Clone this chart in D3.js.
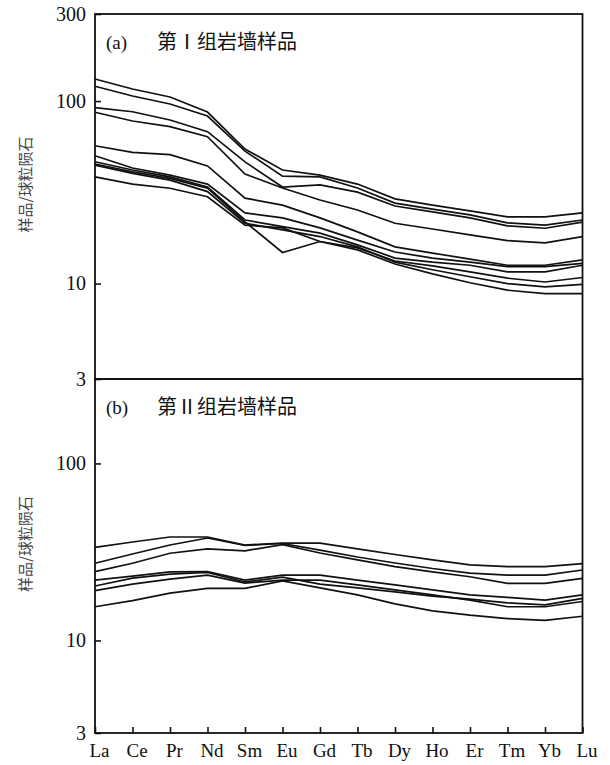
<!DOCTYPE html>
<html>
<head>
<meta charset="utf-8">
<script src="https://cdnjs.cloudflare.com/ajax/libs/d3/7.8.5/d3.min.js"></script>
<style>
  body { margin: 0; background: #fff; }
  .tick text { font-family: "Liberation Serif", "Times New Roman", serif; }
</style>
</head>
<body>
<svg id="chart" width="610" height="765"></svg>
<script>
// rare earth elements, chondrite-normalised
var elements = ["La", "Ce", "Pr", "Nd", "Sm", "Eu", "Gd", "Tb", "Dy", "Ho", "Er", "Tm", "Yb", "Lu"];

// group I dykes
var groupA = [
  [132.1, 116.4, 105.3, 87.1, 54.6, 41.9, 39.3, 35.1, 29.1, 26.9, 25.0, 23.2, 23.2, 24.4],
  [120.5, 106.6, 96.4, 82.8, 53.2, 38.8, 38.4, 33.4, 27.6, 25.6, 23.8, 21.5, 20.9, 22.3],
  [92.0, 87.4, 78.8, 68.0, 46.4, 33.8, 34.7, 31.7, 26.6, 24.7, 22.9, 20.7, 20.1, 21.7],
  [86.8, 77.8, 72.4, 63.8, 39.8, 33.4, 28.7, 25.3, 21.4, 19.9, 18.5, 17.2, 16.7, 18.1],
  [56.9, 52.4, 50.9, 44.1, 29.4, 26.9, 22.9, 19.2, 15.9, 14.7, 13.6, 12.6, 12.6, 13.5],
  [50.2, 43.0, 39.3, 35.1, 24.4, 22.9, 20.2, 17.3, 14.9, 13.8, 13.1, 12.4, 12.4, 12.9],
  [46.5, 41.9, 38.4, 33.8, 22.3, 20.5, 18.9, 16.3, 13.8, 13.1, 12.6, 11.6, 11.6, 12.6],
  [45.2, 40.9, 37.7, 33.3, 21.8, 14.8, 17.0, 15.7, 13.3, 12.5, 11.6, 10.7, 10.2, 10.8],
  [44.6, 40.2, 36.9, 31.9, 21.4, 19.7, 18.1, 15.9, 13.1, 11.9, 10.9, 10.0, 9.6, 9.9],
  [38.4, 35.1, 33.3, 29.9, 20.9, 20.2, 17.0, 15.3, 12.8, 11.3, 10.1, 9.2, 8.8, 8.8]
];

// group II dykes
var groupB = [
  [33.6, 36.0, 38.4, 38.4, 34.6, 35.5, 35.5, 32.9, 30.6, 28.5, 26.7, 26.1, 26.1, 27.2],
  [27.3, 30.8, 34.6, 37.9, 34.4, 35.3, 32.4, 29.6, 27.4, 25.5, 24.0, 23.4, 23.4, 25.0],
  [24.5, 27.3, 31.1, 32.9, 32.1, 34.8, 31.2, 28.5, 26.1, 24.4, 22.9, 21.0, 21.0, 22.4],
  [21.9, 23.1, 24.4, 24.5, 21.9, 23.4, 23.4, 21.9, 20.6, 19.3, 18.1, 17.5, 16.9, 18.1],
  [20.3, 22.5, 23.7, 24.2, 21.4, 22.8, 20.8, 19.8, 18.8, 17.8, 17.1, 16.3, 15.9, 17.3],
  [19.1, 20.8, 22.2, 23.4, 21.1, 21.9, 21.9, 20.6, 19.3, 18.1, 16.9, 15.5, 15.5, 16.6],
  [15.5, 16.8, 18.5, 19.7, 19.7, 21.7, 19.8, 18.1, 16.1, 14.7, 13.9, 13.3, 13.0, 13.7]
];

var tickLabelsA = [300, 100, 10, 3];
var tickLabelsB = [100, 10, 3];
var yTitle = "样品/球粒陨石";
var panelTags = ["(a)", "(b)"];
var panelNames = ["第Ⅰ组岩墙样品", "第Ⅱ组岩墙样品"];

var svg = d3.select("#chart");
var left = 95, right = 582.5;

var x = d3.scalePoint().domain(elements).range([left, right]);

var panels = [
  { data: groupA, ticks: tickLabelsA, top: 14, bottom: 379 },
  { data: groupB, ticks: tickLabelsB, top: 379, bottom: 733 }
];

var line = d3.line();

panels.forEach(function(p, i) {
  var y = d3.scaleLog().domain([3, 300]).range([p.bottom, p.top]);
  var g = svg.append("g");

  g.selectAll(".ree")
    .data(p.data)
    .enter().append("path")
      .attr("class", "ree")
      .attr("fill", "none")
      .attr("stroke", "#111")
      .attr("stroke-width", 1.7)
      .attr("d", function(d) {
        return line(d.map(function(v, j) { return [x(elements[j]), y(v)]; }));
      });

  // y axis, ticks pointing inward
  var ax = g.append("g")
    .attr("transform", "translate(" + left + ",0)")
    .call(d3.axisLeft(y).tickValues(p.ticks).tickSize(-6).tickPadding(9).tickFormat(d3.format("d")));
  ax.select(".domain").remove();
  ax.selectAll("line").attr("stroke", "#111").attr("stroke-width", 1.6);
  ax.selectAll("text").attr("font-size", 20).attr("fill", "#111");

  g.append("rect")
    .attr("x", left).attr("y", p.top)
    .attr("width", right - left).attr("height", p.bottom - p.top)
    .attr("fill", "none").attr("stroke", "#111").attr("stroke-width", 1.8);

  g.append("text")
    .attr("transform", "translate(24," + ((p.top + p.bottom) / 2 - 12) + ") rotate(-90)")
    .attr("text-anchor", "middle")
    .attr("dominant-baseline", "central")
    .attr("font-family", "Noto Sans CJK SC")
    .attr("font-size", 15)
    .attr("fill", "#444")
    .text(yTitle);

  g.append("text")
    .attr("x", 106).attr("y", p.top + 35)
    .attr("font-family", "Liberation Serif")
    .attr("font-size", 19)
    .attr("fill", "#111")
    .text(panelTags[i]);

  g.append("text")
    .attr("x", 157).attr("y", p.top + 35)
    .attr("font-family", "Noto Sans CJK SC")
    .attr("font-size", 20)
    .attr("fill", "#111")
    .text(panelNames[i]);
});

// x axis at the bottom, ticks pointing up
var xa = svg.append("g")
  .attr("transform", "translate(0,733)")
  .call(d3.axisBottom(x).tickSize(-6).tickPadding(11));
xa.select(".domain").remove();
xa.selectAll("line").attr("stroke", "#111").attr("stroke-width", 1.6);
xa.selectAll("text").attr("font-size", 19).attr("dx", 4).attr("fill", "#111");
</script>
</body>
</html>
